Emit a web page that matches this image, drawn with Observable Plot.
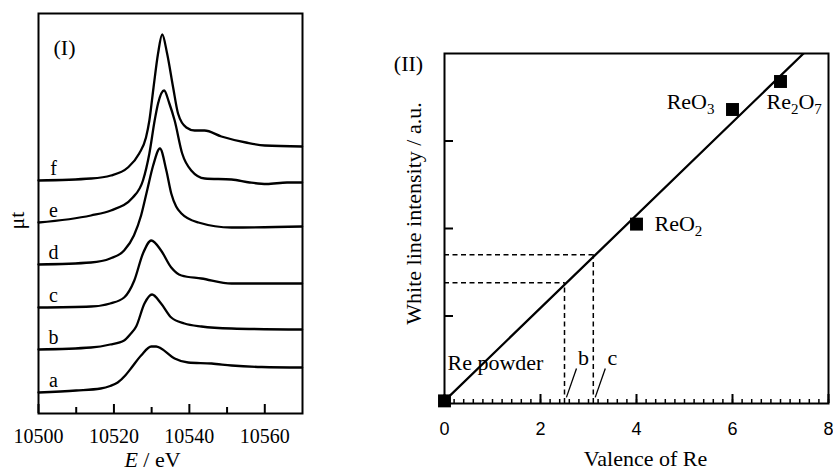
<!DOCTYPE html>
<html>
<head>
<meta charset="utf-8">
<script src="https://cdn.jsdelivr.net/npm/d3@7"></script>
<script src="https://cdn.jsdelivr.net/npm/@observablehq/plot@0.6"></script>
<style>
  html, body { margin: 0; padding: 0; background: #fff; }
  #wrap { position: relative; width: 833px; height: 472px; overflow: hidden; background: #fff; }
  #left { position: absolute; left: 0; top: 0; }
  #right { position: absolute; left: 380px; top: 0; }
</style>
</head>
<body>
<div id="wrap"><div id="left"></div><div id="right"></div></div>
<script>
// ---------- Panel (I): XANES spectra ----------
const samples = ["a", "b", "c", "d", "e", "f"];
const energyA = [10500, 10510.0, 10516.5, 10519.0, 10521.0, 10523.0, 10524.5, 10527.2, 10529.9, 10531.2, 10532.5, 10536.1, 10539.7, 10545.9, 10551.2, 10559.2, 10569.9];
const muA     = [0.21, 0.23, 0.25, 0.275, 0.31, 0.38, 0.45, 0.58, 0.67, 0.67, 0.65, 0.55, 0.51, 0.50, 0.48, 0.465, 0.46];
const energyB = [10500, 10513.9, 10519.0, 10522.7, 10524.3, 10525.9, 10528.1, 10530.1, 10532.5, 10535.2, 10538.7, 10543.2, 10551.2, 10569.9];
const muB     = [0.64, 0.66, 0.69, 0.73, 0.79, 0.87, 1.10, 1.19, 1.10, 0.96, 0.90, 0.87, 0.85, 0.84];
const energyC = [10500, 10513.9, 10519.0, 10522.7, 10525.4, 10527.7, 10529.9, 10532.5, 10535.2, 10537.9, 10543.2, 10551.2, 10569.9];
const muC     = [1.06, 1.07, 1.10, 1.16, 1.33, 1.60, 1.73, 1.63, 1.46, 1.38, 1.35, 1.30, 1.30];
const energyD = [10500, 10513.9, 10519.0, 10522.7, 10525.3, 10527.2, 10528.8, 10530.4, 10532.2, 10533.9, 10535.2, 10536.5, 10537.9, 10542.4, 10551.2, 10569.9];
const muD     = [1.49, 1.51, 1.55, 1.63, 1.78, 1.98, 2.23, 2.48, 2.65, 2.43, 2.20, 2.07, 2.00, 1.91, 1.86, 1.87];
const energyE = [10500, 10513.9, 10519.2, 10525.0, 10527.7, 10529.4, 10530.8, 10531.7, 10533.3, 10534.7, 10536.1, 10538.1, 10540.5, 10544.1, 10551.2, 10556.0, 10560.5, 10565.9, 10569.9];
const muE     = [1.91, 1.98, 2.03, 2.16, 2.33, 2.60, 2.93, 3.10, 3.23, 3.10, 2.93, 2.60, 2.43, 2.35, 2.34, 2.31, 2.295, 2.31, 2.31];
const energyF = [10500, 10513.9, 10519.2, 10523.7, 10526.7, 10528.5, 10529.4, 10530.5, 10531.7, 10532.8, 10534.1, 10535.7, 10537.0, 10539.2, 10541.4, 10544.0, 10548.5, 10555.0, 10560.0, 10569.9];
const muF     = [2.33, 2.35, 2.38, 2.46, 2.60, 2.76, 2.93, 3.26, 3.60, 3.79, 3.60, 3.26, 3.00, 2.86, 2.83, 2.83, 2.77, 2.71, 2.68, 2.67];
const energyMajorTicks = [10500, 10520, 10540, 10560];
const energyMinorTicks = [10510, 10530, 10550];

// ---------- Panel (II): white line intensity vs valence ----------
const compounds = ["Re powder", "ReO2", "ReO3", "Re2O7"];
const compoundValence = [0, 4, 6, 7];
const compoundIntensity = [0.03, 2.05, 3.36, 3.68];
const fitValence = [0, 7.48];
const fitIntensity = [0.03, 4.0];
const sampleNames = ["b", "c"];
const sampleValence = [2.5, 3.1];
const sampleIntensity = [1.38, 1.70];
const valenceTicks = [0, 2, 4, 6, 8];
const valenceMinorTicks = d3.range(0, 8.001, 0.2);
const intensityTicks = [1, 2, 3];

// ---------- tables ----------
const energies = [energyA, energyB, energyC, energyD, energyE, energyF];
const mus = [muA, muB, muC, muD, muE, muF];
const spectra = samples.flatMap((s, k) => energies[k].map((E, i) => ({sample: s, E, mu: mus[k][i]})));
const curveStarts = samples.map((s, k) => ({sample: s, mu: mus[k][0]}));
const points = compounds.map((name, i) => ({name, v: compoundValence[i], w: compoundIntensity[i]}));
const fit = fitValence.map((v, i) => ({v, w: fitIntensity[i]}));
const estimates = sampleNames.map((name, i) => ({name, v: sampleValence[i], w: sampleIntensity[i]}));

const SERIF = '"Liberation Serif", "Times New Roman", serif';
const SANS = '"Liberation Sans", Arial, sans-serif';
const C = {textAnchor: "middle", lineAnchor: "middle"};

const L = {w: 380, h: 472, ml: 38, mr: 78, mt: 13, mb: 59};
const LH = L.h - L.mt - L.mb;
const leftPlot = Plot.plot({
  width: L.w, height: L.h,
  marginLeft: L.ml, marginRight: L.mr, marginTop: L.mt, marginBottom: L.mb,
  x: {domain: [10500, 10570]},
  y: {domain: [0, 4], axis: null},
  style: {fontFamily: SERIF, fontSize: "20px", background: "white", color: "black"},
  marks: [
    Plot.line(spectra, {x: "E", y: "mu", z: "sample", curve: "monotone-x", stroke: "black", strokeWidth: 2.3}),
    Plot.tickX(energyMajorTicks, {x: d => d, insetTop: LH - 9, strokeWidth: 2}),
    Plot.tickX(energyMinorTicks, {x: d => d, insetTop: LH - 6, strokeWidth: 2}),
    Plot.frame({stroke: "black", strokeWidth: 2}),
    Plot.axisX({ticks: energyMajorTicks, tickSize: 0, tickPadding: 15, tickFormat: d => String(d), fontSize: 20, fontFamily: SERIF, label: null}),
    Plot.text(curveStarts, {y: "mu", text: "sample", frameAnchor: "left", ...C, dx: 15, dy: -12, fontSize: 20}),
    Plot.text(["(I)"], {frameAnchor: "top-left", ...C, dx: 26, dy: 34, fontSize: 22}),
    Plot.text(["μt"], {frameAnchor: "left", ...C, dx: -22, dy: 7, rotate: -90, fontSize: 22}),
    Plot.text(["E / eV"], {frameAnchor: "bottom", ...C, dx: -18, dy: 46, fontSize: 22})
  ]
});

const R = {w: 453, h: 472, ml: 64, mr: 5, mt: 53, mb: 69};
const RH = R.h - R.mt - R.mb;
const RW = R.w - R.ml - R.mr;
const rightPlot = Plot.plot({
  width: R.w, height: R.h,
  marginLeft: R.ml, marginRight: R.mr, marginTop: R.mt, marginBottom: R.mb,
  x: {domain: [0, 8]},
  y: {domain: [0, 4], axis: null},
  style: {fontFamily: SERIF, fontSize: "22px", background: "white", color: "black"},
  marks: [
    Plot.tickX(valenceMinorTicks, {x: d => d, insetTop: RH - 4, strokeWidth: 1.5}),
    Plot.tickX(valenceTicks, {x: d => d, insetTop: RH - 9, strokeWidth: 2}),
    Plot.tickY(intensityTicks, {y: d => d, insetRight: RW - 9, strokeWidth: 2}),
    Plot.ruleY(estimates, {y: "w", x1: 0, x2: "v", strokeWidth: 1.5, strokeDasharray: "5,3.5"}),
    Plot.ruleX(estimates, {x: "v", y1: 0, y2: "w", strokeWidth: 1.5, strokeDasharray: "5,3.5"}),
    Plot.line(fit, {x: "v", y: "w", stroke: "black", strokeWidth: 2.3, clip: true}),
    Plot.frame({stroke: "black", strokeWidth: 2}),
    Plot.dot(points, {x: "v", y: "w", symbol: "square", r: 7.3, fill: "black", stroke: null}),
    Plot.link(estimates, {x1: d => d.v + 0.04, y1: () => 0.07, x2: d => d.v + 0.25, y2: () => 0.4, strokeWidth: 1.3}),
    Plot.text(estimates, {x: "v", y: () => 0, text: "name", ...C, dx: 19, dy: -46, fontSize: 22}),
    Plot.text(points.filter(d => d.name === "Re powder"), {x: "v", y: "w", text: "name", lineAnchor: "middle", textAnchor: "start", dx: 3, dy: -38, fontSize: 22}),
    Plot.text(points.filter(d => d.name === "ReO2"), {x: "v", y: "w", text: "name", lineAnchor: "middle", textAnchor: "start", dx: 18, dy: 0, fontSize: 22}),
    Plot.text(points.filter(d => d.name === "ReO3"), {x: "v", y: "w", text: "name", lineAnchor: "middle", textAnchor: "end", dx: -18, dy: -8, fontSize: 22}),
    Plot.text(points.filter(d => d.name === "Re2O7"), {x: "v", y: "w", text: "name", lineAnchor: "middle", textAnchor: "start", dx: -14, dy: 20, fontSize: 22}),
    Plot.axisX({ticks: valenceTicks, tickSize: 0, tickPadding: 19, tickFormat: d => String(d), fontSize: 18, fontFamily: SANS, label: null}),
    Plot.text(["(II)"], {frameAnchor: "top-left", ...C, dx: -36, dy: 10, fontSize: 22}),
    Plot.text(["Valence of Re"], {frameAnchor: "bottom", ...C, dx: 9, dy: 55, fontSize: 22}),
    Plot.text(["White line intensity / a.u."], {frameAnchor: "left", ...C, dx: -31, dy: -15, rotate: -90, fontSize: 22})
  ]
});

const rich = {
  "E / eV": '<tspan font-style="italic">E</tspan> / eV',
  "ReO2": 'ReO<tspan dy="5" font-size="15">2</tspan>',
  "ReO3": 'ReO<tspan dy="5" font-size="15">3</tspan>',
  "Re2O7": 'Re<tspan dy="5" font-size="15">2</tspan><tspan dy="-5">O</tspan><tspan dy="5" font-size="15">7</tspan>'
};
for (const svg of [leftPlot, rightPlot]) {
  d3.select(svg).selectAll("text").each(function () {
    const t = this.textContent;
    if (rich[t]) this.innerHTML = rich[t];
  });
}
document.getElementById("left").appendChild(leftPlot);
document.getElementById("right").appendChild(rightPlot);
</script>
</body>
</html>
